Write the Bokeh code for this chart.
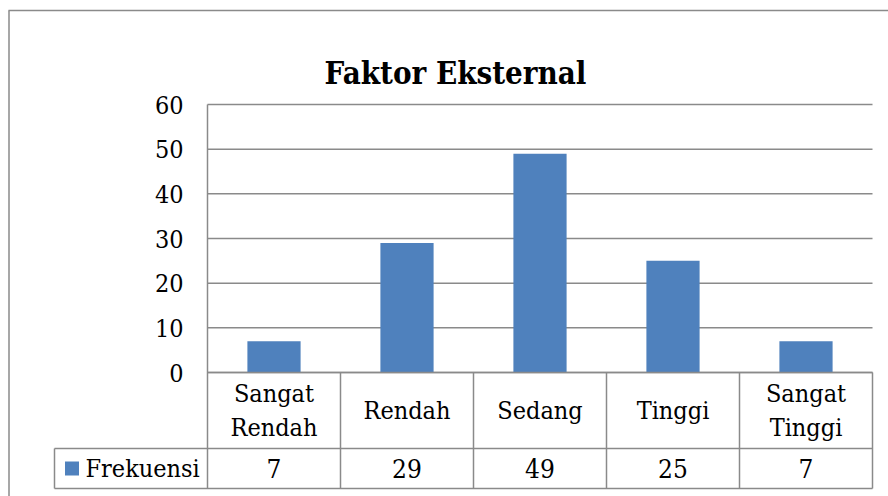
from bokeh.plotting import figure
from bokeh.models import Range1d
from bokeh.core.properties import value
from bokeh.embed import file_html
from bokeh.resources import INLINE

# ---- data ----
title_text = "Faktor Eksternal"
categories = ["Sangat Rendah", "Rendah", "Sedang", "Tinggi", "Sangat Tinggi"]
category_labels = ["Sangat\nRendah", "Rendah", "Sedang", "Tinggi", "Sangat\nTinggi"]
series_name = "Frekuensi"
frekuensi = [7, 29, 49, 25, 7]
y_ticks = [0, 10, 20, 30, 40, 50, 60]

# ---- layout (page pixels) ----
W, H = 888, 496
X_LEFT, X_RIGHT = 207, 872
Y_ZERO, Y_TOP = 372, 104
ROW1_BOTTOM, ROW2_BOTTOM = 448, 488
LEGEND_LEFT = 54

n = len(categories)
ymax = y_ticks[-1]
yunit = (Y_ZERO - Y_TOP) / ymax
xunit = (X_RIGHT - X_LEFT) / n
x_start = -X_LEFT / xunit
x_end = n + (W - X_RIGHT) / xunit
y_start = -(H - Y_ZERO) / yunit
y_end = ymax + Y_TOP / yunit


def sx(px):
    return x_start + px / xunit


def sy(py):
    return y_end - py / yunit


FONT = value("DejaVu Serif Condensed, DejaVu Serif")
GRID = "#8a8a8a"
BAR = "#4F81BD"

p = figure(width=W, height=H, output_backend="svg", toolbar_location=None,
           x_range=Range1d(x_start, x_end), y_range=Range1d(y_start, y_end),
           x_axis_type=None, y_axis_type=None, min_border=0,
           outline_line_color=None, background_fill_color="white",
           border_fill_color="white")
p.grid.visible = False

# outer chart border (left + top)
p.segment(x0=[sx(8.5), sx(8)], y0=[sy(10), sy(10)], x1=[sx(8.5), sx(W)], y1=[sy(H), sy(10)],
          line_color=GRID, line_width=1.5)

# title
p.text(x=[sx(455)], y=[sy(72)], text=[title_text], text_font=FONT,
       text_font_size="31px", text_font_style="bold", text_align="center",
       text_baseline="alphabetic", text_color="black")

# gridlines
p.segment(x0=[0] * len(y_ticks), x1=[n] * len(y_ticks), y0=y_ticks, y1=y_ticks,
          line_color=GRID, line_width=1.5)

# y tick labels
p.text(x=[sx(183)] * len(y_ticks), y=y_ticks, text=[str(t) for t in y_ticks],
       text_font=FONT, text_font_size="25px", text_align="right",
       text_baseline="middle", text_color="black")

# bars
xc = [i + 0.5 for i in range(n)]
p.vbar(x=xc, top=frekuensi, bottom=0, width=0.4, fill_color=BAR, line_color=None)

# data table lines
r1 = sy(ROW1_BOTTOM)
r2 = sy(ROW2_BOTTOM)
p.segment(x0=[0, sx(LEGEND_LEFT), sx(LEGEND_LEFT)], x1=[n, n, n],
          y0=[0, r1, r2], y1=[0, r1, r2], line_color=GRID, line_width=1.5)
p.segment(x0=[0], x1=[0], y0=[ymax], y1=[r2], line_color=GRID, line_width=1.5)
p.segment(x0=list(range(1, n + 1)), x1=list(range(1, n + 1)),
          y0=[0] * n, y1=[r2] * n, line_color=GRID, line_width=1.5)
p.segment(x0=[sx(LEGEND_LEFT)], x1=[sx(LEGEND_LEFT)], y0=[r1], y1=[r2],
          line_color=GRID, line_width=1.5)

# category labels
p.text(x=xc, y=[(0 + r1) / 2] * n, text=category_labels, text_font=FONT,
       text_font_size="25px", text_align="center", text_baseline="middle",
       text_color="black", text_line_height=1.2)

# values row
p.text(x=xc, y=[(r1 + r2) / 2] * n, text=[str(v) for v in frekuensi], text_font=FONT,
       text_font_size="26px", text_align="center", text_baseline="middle",
       text_color="black")

# legend key + series name
p.rect(x=[sx(71.5)], y=[(r1 + r2) / 2], width=14, height=14, width_units="screen",
       height_units="screen", fill_color=BAR, line_color=None)
p.text(x=[sx(85)], y=[(r1 + r2) / 2], text=[series_name], text_font=FONT,
       text_font_size="25px", text_align="left", text_baseline="middle",
       text_color="black")

open("out.html", "w").write(file_html(p, INLINE))
